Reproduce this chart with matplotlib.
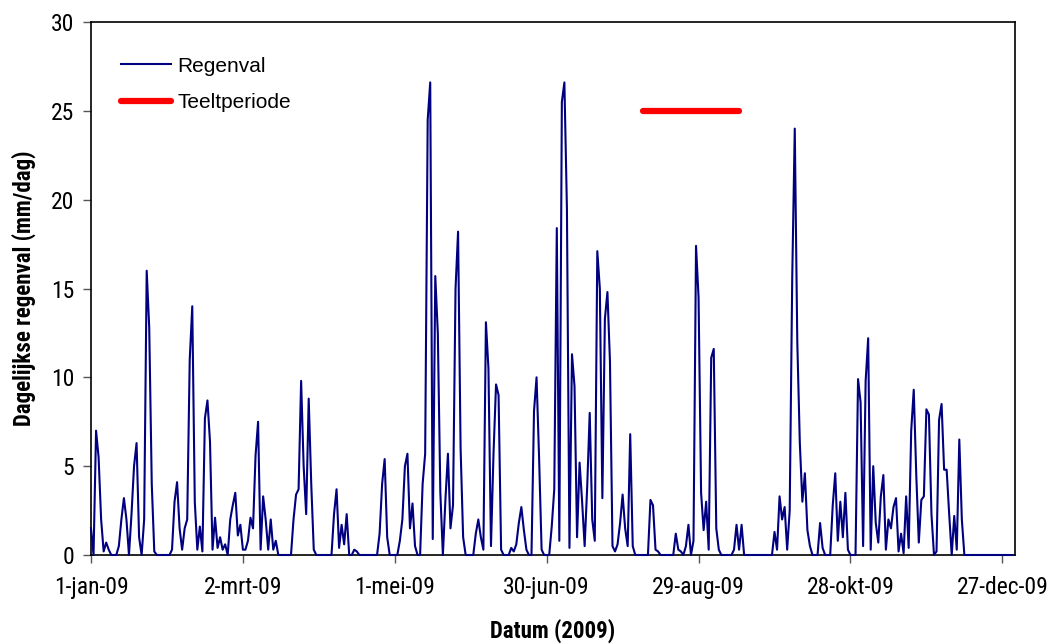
import matplotlib
matplotlib.use("Agg")
import matplotlib.pyplot as plt
import pandas as pd
import numpy as np

# ---- data ----
start_date = "2009-01-01"
rain_mm = [
    1.5, 0.0, 7.0, 5.5, 2.0, 0.2, 0.7, 0.3, 0.0, 0.0,
    0.0, 0.5, 2.0, 3.2, 2.0, 0.0, 2.3, 5.0, 6.3, 1.0,
    0.0, 2.0, 16.0, 12.8, 4.0, 0.2, 0.0, 0.0, 0.0, 0.0,
    0.0, 0.0, 0.3, 3.0, 4.1, 1.5, 0.3, 1.5, 2.0, 11.0,
    14.0, 3.0, 0.3, 1.6, 0.2, 7.7, 8.7, 6.4, 0.3, 2.1,
    0.4, 1.0, 0.3, 0.6, 0.0, 2.0, 2.8, 3.5, 1.1, 1.7,
    0.3, 0.3, 0.8, 2.1, 1.5, 5.6, 7.5, 0.3, 3.3, 2.0,
    0.3, 2.0, 0.3, 0.8, 0.0, 0.0, 0.0, 0.0, 0.0, 0.0,
    2.0, 3.4, 3.7, 9.8, 5.0, 2.3, 8.8, 4.0, 0.3, 0.0,
    0.0, 0.0, 0.0, 0.0, 0.0, 0.0, 2.3, 3.7, 0.4, 1.7,
    0.6, 2.3, 0.0, 0.0, 0.3, 0.2, 0.0, 0.0, 0.0, 0.0,
    0.0, 0.0, 0.0, 0.0, 1.2, 4.0, 5.4, 1.0, 0.0, 0.0,
    0.0, 0.0, 0.8, 2.0, 5.0, 5.7, 1.5, 2.9, 0.5, 0.0,
    0.0, 4.0, 5.7, 24.5, 26.6, 0.9, 15.7, 12.5, 3.5, 0.0,
    3.1, 5.7, 1.5, 2.8, 15.0, 18.2, 6.0, 1.0, 0.0, 0.0,
    0.0, 0.0, 1.2, 2.0, 1.0, 0.3, 13.1, 10.5, 0.5, 5.7,
    9.6, 9.0, 0.3, 0.0, 0.0, 0.0, 0.4, 0.2, 0.6, 1.8,
    2.7, 1.4, 0.3, 0.0, 0.0, 8.1, 10.0, 5.5, 0.3, 0.0,
    0.0, 0.0, 1.6, 3.7, 18.4, 0.8, 25.5, 26.6, 19.5, 0.4,
    11.3, 9.5, 1.0, 5.2, 3.0, 0.5, 3.8, 8.0, 2.0, 0.8,
    17.1, 15.0, 3.2, 13.3, 14.8, 10.9, 0.5, 0.2, 0.6, 1.8,
    3.4, 1.5, 0.5, 6.8, 0.5, 0.0, 0.0, 0.0, 0.0, 0.0,
    0.0, 3.1, 2.8, 0.3, 0.2, 0.0, 0.0, 0.0, 0.0, 0.0,
    0.0, 1.2, 0.3, 0.2, 0.0, 0.5, 1.7, 0.0, 0.8, 17.4,
    14.5, 3.5, 1.4, 3.0, 0.3, 11.1, 11.6, 1.5, 0.3, 0.0,
    0.0, 0.0, 0.0, 0.0, 0.3, 1.7, 0.3, 1.7, 0.0, 0.0,
    0.0, 0.0, 0.0, 0.0, 0.0, 0.0, 0.0, 0.0, 0.0, 0.0,
    1.3, 0.3, 3.3, 2.0, 2.7, 0.3, 2.5, 15.6, 24.0, 12.0,
    6.3, 3.0, 4.6, 1.4, 0.5, 0.0, 0.0, 0.0, 1.8, 0.4,
    0.0, 0.0, 0.0, 2.8, 4.6, 0.8, 3.0, 1.0, 3.5, 0.3,
    0.0, 0.0, 0.0, 9.9, 8.6, 0.5, 9.8, 12.2, 0.3, 5.0,
    1.8, 0.7, 3.3, 4.5, 0.3, 2.0, 1.5, 2.7, 3.2, 0.2,
    1.2, 0.1, 3.3, 0.4, 7.0, 9.3, 4.5, 0.7, 3.1, 3.3,
    8.2, 7.9, 2.3, 0.0, 0.2, 7.6, 8.5, 4.8, 4.8, 2.3,
    0.0, 2.2, 0.3, 6.5, 2.0, 0.0, 0.0, 0.0, 0.0, 0.0,
    0.0, 0.0, 0.0, 0.0, 0.0, 0.0, 0.0, 0.0, 0.0, 0.0,
    0.0, 0.0, 0.0, 0.0, 0.0,
]
teelt_dates = ["2009-08-07", "2009-09-14"]
teelt_level = [25, 25]
tick_dates = ["2009-01-01", "2009-03-02", "2009-05-01", "2009-06-30",
              "2009-08-29", "2009-10-28", "2009-12-27"]
tick_labels = ["1-jan-09", "2-mrt-09", "1-mei-09", "30-jun-09",
               "29-aug-09", "28-okt-09", "27-dec-09"]
y_ticks = [0, 5, 10, 15, 20, 25, 30]

# ---- plot ----
narrow = ["Roboto Condensed", "Liberation Sans", "DejaVu Sans"]
regular = ["Liberation Sans", "DejaVu Sans"]

dates = pd.date_range(start_date, periods=len(rain_mm), freq="D")

fig = plt.figure(figsize=(10.53, 6.44), dpi=100)
ax = fig.add_axes([91 / 1053, 1 - 555 / 644, (1015 - 91) / 1053, (555 - 22) / 644])

ax.plot(dates, rain_mm, color="#000080", lw=1.5, zorder=3, clip_on=False,
        label="Regenval")
ax.plot(pd.to_datetime(teelt_dates), teelt_level, color="#ff0000", lw=4.5,
        solid_capstyle="round", zorder=3, label="Teeltperiode")

ax.set_xlim(pd.Timestamp("2009-01-01"), pd.Timestamp("2010-01-01"))
ax.set_ylim(0, 30)
ax.set_xticks(pd.to_datetime(tick_dates))
ax.set_xticklabels(tick_labels)
ax.set_yticks(y_ticks)

for lab in ax.get_xticklabels() + ax.get_yticklabels():
    lab.set_family(narrow)
    lab.set_fontsize(17)

ax.tick_params(axis="both", direction="out", length=6, width=1, color="#555555",
               top=False, right=False)
ax.tick_params(axis="x", pad=9)
ax.tick_params(axis="y", pad=6)

for sp in ax.spines.values():
    sp.set_linewidth(1.2)
    sp.set_color("black")

ax.set_xlabel("Datum (2009)", family=narrow, fontsize=16.5, fontweight="bold",
              labelpad=14)
ax.set_ylabel("Dagelijkse regenval (mm/dag)", family=narrow, fontsize=16.5,
              fontweight="bold", labelpad=11)

leg = ax.legend(loc="upper left", bbox_to_anchor=(0.033, 0.935), frameon=False,
                borderaxespad=0, borderpad=0, handlelength=2.4,
                handletextpad=0.3, labelspacing=0.85,
                prop={"family": regular, "size": 15})

fig.savefig("out.png", dpi=100)
